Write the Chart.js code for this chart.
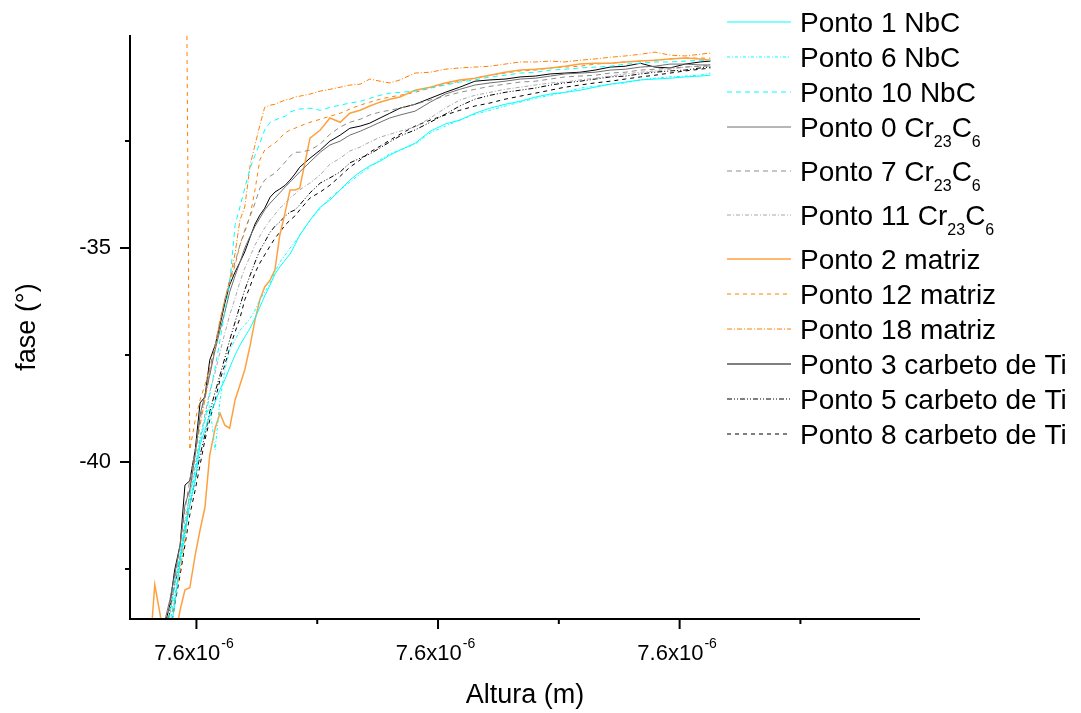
<!DOCTYPE html>
<html>
<head>
<meta charset="utf-8">
<script src="https://cdn.jsdelivr.net/npm/chart.js@4.4.0/dist/chart.umd.min.js"></script>
<style>
  html, body { margin: 0; padding: 0; background: #fff; }
  canvas { display: block; }
</style>
</head>
<body>
<canvas id="fase" width="1081" height="713"></canvas>
<script>
// altura (nm) - mesma grade para todas as curvas
const altura = [7599.523, 7599.531, 7599.540, 7599.548, 7599.556, 7599.564, 7599.573, 7599.581, 7599.589, 7599.598,
  7599.606, 7599.614, 7599.622, 7599.631, 7599.639, 7599.647, 7599.655, 7599.664, 7599.672, 7599.680,
  7599.689, 7599.697, 7599.705, 7599.713, 7599.722, 7599.730, 7599.738, 7599.747, 7599.755, 7599.763,
  7599.771, 7599.788, 7599.805, 7599.821, 7599.838, 7599.854, 7599.871, 7599.887, 7599.904, 7599.920,
  7599.937, 7599.962, 7599.987, 7600.012, 7600.036, 7600.061, 7600.086, 7600.111, 7600.136, 7600.161,
  7600.186, 7600.210, 7600.235, 7600.260, 7600.285, 7600.310, 7600.335, 7600.359, 7600.384, 7600.409,
  7600.434, 7600.451];

// fase (graus) de cada ponto medido
const ponto1 = [-46.50, -45.91, -45.33, -44.74, -44.04, -43.34, -42.29, -41.59, -41.00, -40.42,
  -39.60, -39.25, -38.90, -38.60, -38.31, -38.08, -37.80, -37.50, -37.27, -37.08,
  -36.87, -36.64, -36.38, -36.12, -35.86, -35.61, -35.44, -35.28, -35.14, -34.93,
  -34.70, -34.35, -34.04, -33.88, -33.64, -33.41, -33.22, -33.08, -32.97, -32.83,
  -32.71, -32.55, -32.27, -32.10, -32.01, -31.85, -31.73, -31.64, -31.57, -31.47,
  -31.40, -31.36, -31.31, -31.24, -31.17, -31.12, -31.07, -31.05, -31.03, -31.00,
  -30.98, -30.96];
const ponto6 = [-46.38, -45.79, -45.21, -44.51, -43.81, -43.11, -42.41, -41.71, -41.00, -40.19,
  -39.37, -39.02, -38.67, -39.72, -38.55, -37.85, -37.38, -37.15, -36.92, -36.80,
  -36.64, -36.45, -36.21, -36.03, -35.82, -35.56, -35.33, -35.16, -35.00, -34.86,
  -34.70, -34.35, -34.07, -33.83, -33.64, -33.46, -33.27, -33.11, -32.94, -32.80,
  -32.71, -32.57, -32.31, -32.15, -32.01, -31.87, -31.78, -31.68, -31.59, -31.50,
  -31.43, -31.36, -31.26, -31.22, -31.17, -31.14, -31.07, -31.03, -31.00, -30.98,
  -30.96, -30.91];
const ponto10 = [-46.14, -45.56, -44.98, -44.28, -43.57, -42.87, -42.17, -41.47, -40.77, -40.19,
  -39.60, -39.02, -38.43, -37.80, -37.15, -36.50, -35.82, -34.46, -34.04, -33.60,
  -33.13, -32.83, -32.55, -32.24, -32.06, -32.01, -31.96, -31.92, -31.82, -31.78,
  -31.75, -31.73, -31.78, -31.71, -31.66, -31.61, -31.57, -31.50, -31.43, -31.38,
  -31.36, -31.33, -31.26, -31.19, -31.12, -31.07, -31.00, -30.96, -30.91, -30.89,
  -30.84, -30.82, -30.79, -30.77, -30.75, -30.70, -30.68, -30.65, -30.65, -30.63,
  -30.61, -30.61];
const ponto0 = [-45.33, -44.86, -44.28, -43.69, -43.22, -42.64, -41.94, -41.00, -40.65, -39.84,
  -38.90, -38.43, -37.97, -37.38, -36.92, -36.50, -36.03, -35.65, -35.33, -35.00,
  -34.72, -34.49, -34.30, -34.11, -33.95, -33.83, -33.71, -33.57, -33.46, -33.34,
  -33.22, -32.99, -32.76, -32.59, -32.50, -32.36, -32.27, -32.17, -32.06, -31.96,
  -31.89, -31.80, -31.59, -31.40, -31.29, -31.19, -31.14, -31.10, -31.05, -31.03,
  -30.98, -30.93, -30.91, -30.89, -30.84, -30.82, -30.77, -30.75, -30.70, -30.70,
  -30.72, -30.72];
const ponto7 = [-45.56, -45.09, -44.51, -43.93, -43.34, -42.76, -41.94, -41.12, -40.42, -39.72,
  -39.02, -38.43, -37.85, -37.27, -36.73, -36.21, -35.75, -35.33, -34.93, -34.58,
  -34.25, -33.95, -33.60, -33.41, -33.32, -33.25, -33.13, -32.99, -32.85, -32.76,
  -32.76, -32.71, -32.57, -32.34, -32.17, -32.06, -31.99, -31.89, -31.82, -31.78,
  -31.73, -31.64, -31.54, -31.45, -31.36, -31.29, -31.22, -31.17, -31.12, -31.10,
  -31.05, -31.00, -30.98, -30.96, -30.91, -30.89, -30.84, -30.82, -30.79, -30.77,
  -30.75, -30.75];
const ponto11 = [-45.79, -45.33, -44.74, -44.16, -43.57, -42.87, -42.17, -41.36, -40.77, -40.07,
  -39.49, -38.90, -38.36, -37.90, -37.43, -36.99, -36.57, -36.17, -35.79, -35.47,
  -35.19, -34.93, -34.72, -34.53, -34.35, -34.21, -34.07, -33.95, -33.83, -33.74,
  -33.64, -33.48, -33.29, -33.04, -32.90, -32.73, -32.64, -32.52, -32.41, -32.34,
  -32.27, -32.17, -31.96, -31.73, -31.54, -31.43, -31.36, -31.29, -31.24, -31.19,
  -31.14, -31.12, -31.07, -31.03, -30.98, -30.93, -30.89, -30.86, -30.82, -30.77,
  -30.75, -30.72];
const ponto2 = [-44.39, -42.87, -43.57, -44.39, -44.63, -44.16, -43.46, -42.99, -42.94, -42.17,
  -41.59, -41.07, -39.84, -39.21, -38.86, -39.14, -39.21, -38.55, -38.20, -37.85,
  -37.27, -36.68, -36.21, -35.91, -35.75, -35.51, -34.70, -34.16, -33.64, -33.64,
  -33.60, -32.43, -32.24, -31.96, -32.06, -31.85, -31.78, -31.68, -31.59, -31.52,
  -31.47, -31.31, -31.24, -31.14, -31.07, -31.03, -30.96, -30.89, -30.84, -30.82,
  -30.79, -30.75, -30.70, -30.68, -30.68, -30.65, -30.63, -30.61, -30.58, -30.56,
  -30.58, -30.61];
const ponto12 = [null, null, null, null, null, null, null, -23.50, -39.72, -39.02,
  -38.55, -38.20, -37.80, -37.27, -36.73, -36.21, -35.82, -35.40, -34.93, -34.63,
  -34.23, -33.64, -32.94, -32.71, -32.62, -32.55, -32.43, -32.31, -32.24, -32.20,
  -32.15, -32.06, -31.99, -31.92, -31.85, -31.75, -31.66, -31.59, -31.52, -31.47,
  -31.43, -31.36, -31.26, -31.17, -31.10, -31.03, -30.96, -30.91, -30.86, -30.84,
  -30.79, -30.77, -30.75, -30.70, -30.68, -30.65, -30.63, -30.61, -30.58, -30.56,
  -30.56, -30.56];
const ponto18 = [-46.03, -45.56, -44.98, -44.39, -43.81, -43.22, -42.52, -41.82, -40.65, -39.84,
  -39.14, -38.55, -37.97, -37.27, -36.68, -36.21, -35.75, -35.12, -34.35, -34.04,
  -33.06, -32.59, -32.13, -31.71, -31.66, -31.64, -31.59, -31.54, -31.52, -31.47,
  -31.45, -31.40, -31.33, -31.29, -31.24, -31.19, -31.17, -31.05, -31.10, -31.14,
  -31.07, -30.91, -30.89, -30.82, -30.79, -30.77, -30.75, -30.70, -30.65, -30.65,
  -30.63, -30.65, -30.61, -30.58, -30.54, -30.51, -30.47, -30.42, -30.49, -30.51,
  -30.47, -30.44];
const ponto3 = [-45.56, -45.10, -44.40, -43.80, -43.34, -42.52, -41.94, -40.54, -40.44, -39.72,
  -38.62, -38.48, -37.62, -37.27, -36.80, -36.29, -35.86, -35.56, -35.33, -35.09,
  -34.74, -34.44, -34.23, -34.07, -33.81, -33.69, -33.62, -33.53, -33.41, -33.27,
  -33.11, -32.90, -32.71, -32.50, -32.36, -32.20, -32.15, -32.08, -31.96, -31.85,
  -31.73, -31.64, -31.50, -31.36, -31.24, -31.10, -31.07, -31.05, -31.00, -30.98,
  -30.93, -30.91, -30.89, -30.84, -30.77, -30.75, -30.68, -30.77, -30.79, -30.70,
  -30.65, -30.63];
const ponto5 = [-46.03, -45.56, -44.98, -44.39, -43.46, -42.87, -42.29, -41.59, -41.00, -40.42,
  -39.84, -39.37, -38.83, -38.36, -37.97, -37.57, -37.15, -36.73, -36.35, -35.98,
  -35.63, -35.33, -35.05, -34.86, -34.63, -34.49, -34.39, -34.25, -34.16, -34.11,
  -33.99, -33.71, -33.48, -33.36, -33.22, -33.01, -32.90, -32.80, -32.66, -32.52,
  -32.38, -32.24, -32.06, -31.87, -31.68, -31.52, -31.43, -31.36, -31.31, -31.26,
  -31.19, -31.14, -31.10, -31.05, -31.00, -30.98, -30.93, -30.89, -30.86, -30.84,
  -30.79, -30.77];
const ponto8 = [-46.26, -45.79, -45.21, -44.63, -44.04, -43.34, -42.64, -41.94, -41.24, -40.65,
  -40.07, -39.49, -39.02, -38.55, -38.08, -37.73, -37.34, -36.96, -36.64, -36.21,
  -35.89, -35.58, -35.35, -35.16, -34.95, -34.77, -34.63, -34.46, -34.35, -34.25,
  -34.11, -33.83, -33.69, -33.53, -33.32, -33.11, -32.94, -32.76, -32.62, -32.48,
  -32.34, -32.15, -32.01, -31.89, -31.78, -31.68, -31.61, -31.52, -31.45, -31.38,
  -31.31, -31.24, -31.19, -31.14, -31.10, -31.05, -31.00, -30.96, -30.91, -30.86,
  -30.82, -30.79];

// marcas dos eixos
const xMajorTicks = [7599.6, 7600.0, 7600.4];
const xMinorTicks = [7599.8, 7600.2, 7600.6];
const yMajorTicks = [-35, -40];
const yMinorTicks = [-32.5, -37.5, -42.5];

const FONT = "'Liberation Sans', Arial, sans-serif";
const CYAN = '#00FFFF', ORANGE = '#FF8000';

const series = [
  { label: 'Ponto 1 NbC', values: ponto1, color: CYAN, dash: [] },
  { label: 'Ponto 6 NbC', values: ponto6, color: CYAN, dash: [3, 2, 1, 2] },
  { label: 'Ponto 10 NbC', values: ponto10, color: CYAN, dash: [5, 4] },
  { label: 'Ponto 0 Cr23C6', values: ponto0, color: '#6E6E6E', dash: [] },
  { label: 'Ponto 7 Cr23C6', values: ponto7, color: '#8C8C8C', dash: [5, 4] },
  { label: 'Ponto 11 Cr23C6', values: ponto11, color: '#A8A8A8', dash: [4, 2, 1, 2] },
  { label: 'Ponto 2 matriz', values: ponto2, color: '#FFA040', dash: [], width: 1.5 },
  { label: 'Ponto 12 matriz', values: ponto12, color: ORANGE, dash: [4, 4] },
  { label: 'Ponto 18 matriz', values: ponto18, color: ORANGE, dash: [5, 2, 1, 2] },
  { label: 'Ponto 3 carbeto de Ti', values: ponto3, color: '#000000', dash: [] },
  { label: 'Ponto 5 carbeto de Ti', values: ponto5, color: '#000000', dash: [5, 2, 1, 2, 1, 2] },
  { label: 'Ponto 8 carbeto de Ti', values: ponto8, color: '#000000', dash: [4, 4] }
];

// separa os indices quimicos (Cr23C6) para desenhar como subscrito
function segments(text) {
  const out = [];
  const re = /([A-Za-z])(\d+)/g;
  let last = 0, m;
  while ((m = re.exec(text))) {
    out.push({ t: text.slice(last, m.index + 1), sub: false });
    out.push({ t: m[2], sub: true });
    last = m.index + m[0].length;
  }
  out.push({ t: text.slice(last), sub: false });
  return out;
}

const axesAndLegend = {
  id: 'axesAndLegend',
  afterDraw(chart) {
    const { ctx, chartArea: a, scales: { x, y } } = chart;
    ctx.save();
    ctx.strokeStyle = '#000';
    ctx.fillStyle = '#000';
    ctx.lineWidth = 2;
    ctx.setLineDash([]);

    // eixos esquerdo e inferior
    ctx.beginPath();
    ctx.moveTo(a.left, a.top);
    ctx.lineTo(a.left, a.bottom);
    ctx.lineTo(a.right, a.bottom);
    ctx.stroke();

    ctx.beginPath();
    yMajorTicks.forEach(v => { const p = y.getPixelForValue(v); ctx.moveTo(a.left, p); ctx.lineTo(a.left - 10, p); });
    yMinorTicks.forEach(v => { const p = y.getPixelForValue(v); ctx.moveTo(a.left, p); ctx.lineTo(a.left - 5, p); });
    xMajorTicks.forEach(v => { const p = x.getPixelForValue(v); ctx.moveTo(p, a.bottom); ctx.lineTo(p, a.bottom + 10); });
    xMinorTicks.forEach(v => { const p = x.getPixelForValue(v); ctx.moveTo(p, a.bottom); ctx.lineTo(p, a.bottom + 5); });
    ctx.stroke();

    // rotulos do eixo y
    ctx.font = '22px ' + FONT;
    ctx.textAlign = 'right';
    ctx.textBaseline = 'middle';
    yMajorTicks.forEach(v => ctx.fillText(String(v), a.left - 19, y.getPixelForValue(v)));

    // rotulos do eixo x em notacao cientifica (m)
    ctx.textBaseline = 'alphabetic';
    ctx.textAlign = 'left';
    xMajorTicks.forEach(v => {
      const [mant, exp] = (v * 1e-9).toExponential(1).split('e');
      const base = mant + 'x10';
      const sup = String(parseInt(exp, 10));
      ctx.font = '22px ' + FONT;
      const wb = ctx.measureText(base).width;
      ctx.font = '14px ' + FONT;
      const ws = ctx.measureText(sup).width;
      const left = x.getPixelForValue(v) - (wb + ws) / 2 - 3;
      ctx.font = '22px ' + FONT;
      ctx.fillText(base, left, a.bottom + 41);
      ctx.font = '14px ' + FONT;
      ctx.fillText(sup, left + wb + 1, a.bottom + 29);
    });

    // titulos dos eixos
    ctx.font = '27px ' + FONT;
    ctx.textAlign = 'center';
    ctx.fillText('Altura (m)', (a.left + a.right) / 2, a.bottom + 84);
    ctx.save();
    ctx.translate(35, (a.top + a.bottom) / 2);
    ctx.rotate(-Math.PI / 2);
    ctx.fillText('fase (\u00B0)', 0, 0);
    ctx.restore();

    // legenda
    let ly = 22;
    chart.data.datasets.forEach(ds => {
      ctx.strokeStyle = ds.borderColor;
      ctx.lineWidth = ds.borderWidth;
      ctx.setLineDash(ds.borderDash || []);
      ctx.beginPath();
      ctx.moveTo(727, ly);
      ctx.lineTo(791, ly);
      ctx.stroke();
      ctx.setLineDash([]);
      ctx.textAlign = 'left';
      let tx = 800;
      const segs = segments(ds.label);
      segs.forEach(s => {
        ctx.font = (s.sub ? '16px ' : '28px ') + FONT;
        ctx.fillText(s.t, tx, ly + (s.sub ? 20 : 10));
        tx += ctx.measureText(s.t).width;
      });
      ly += segs.some(s => s.sub) ? 44 : 35;
    });
    ctx.restore();
  }
};

new Chart(document.getElementById('fase'), {
  type: 'line',
  data: {
    datasets: series.map(s => ({
      label: s.label,
      data: altura.map((h, i) => ({ x: h, y: s.values[i] })),
      borderColor: s.color,
      borderDash: s.dash,
      borderWidth: s.width || 1,
      pointRadius: 0,
      tension: 0,
      fill: false,
      spanGaps: false
    }))
  },
  options: {
    responsive: false,
    animation: false,
    devicePixelRatio: 1,
    layout: { padding: { left: 130, top: 35, right: 161, bottom: 94 } },
    scales: {
      x: { type: 'linear', min: 7599.49, max: 7600.798, display: false },
      y: { type: 'linear', min: -43.67, max: -30.02, display: false }
    },
    plugins: {
      legend: { display: false },
      tooltip: { enabled: false }
    }
  },
  plugins: [axesAndLegend]
});
</script>
</body>
</html>
